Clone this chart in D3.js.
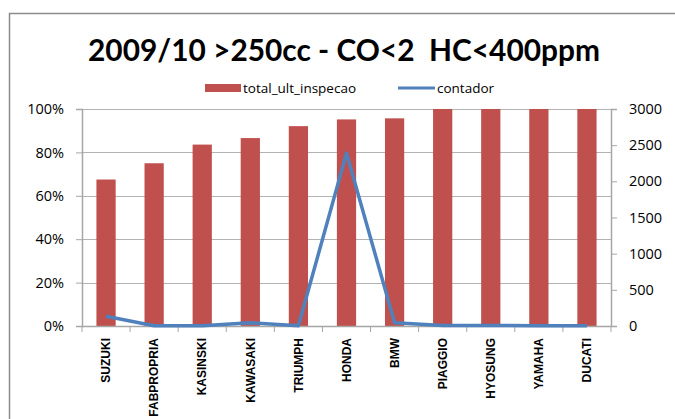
<!DOCTYPE html>
<html>
<head>
<meta charset="utf-8">
<script src="https://cdn.jsdelivr.net/npm/d3@7"></script>
<style>
  body { margin: 0; background: #fff; }
  svg { display: block; }
  text { font-family: "Open Sans", "Liberation Sans", sans-serif; fill: #000; }
</style>
</head>
<body>
<div id="chart"></div>
<script>
// data
var brands = ["SUZUKI", "FABPROPRIA", "KASINSKI", "KAWASAKI", "TRIUMPH", "HONDA", "BMW", "PIAGGIO", "HYOSUNG", "YAMAHA", "DUCATI"];
var totalUltInspecao = [0.675, 0.75, 0.836, 0.866, 0.921, 0.952, 0.957, 1, 1, 1, 1];
var contador = [135, 3, 3, 45, 3, 2390, 45, 8, 8, 4, 2];
var leftTicks = [0, 0.2, 0.4, 0.6, 0.8, 1];
var rightTicks = [0, 500, 1000, 1500, 2000, 2500, 3000];

var W = 675, H = 419;
var margin = {top: 109, right: 64, bottom: 93, left: 82},
    width = W - margin.left - margin.right,
    height = H - margin.top - margin.bottom;

var root = d3.select("#chart").append("svg")
    .attr("width", W)
    .attr("height", H);

// chart frame
root.append("rect")
    .attr("x", 9.5).attr("y", 13.5)
    .attr("width", 700).attr("height", 450)
    .attr("fill", "none")
    .attr("stroke", "#8c8c8c")
    .attr("stroke-width", 1.5);

// title
root.append("text")
    .attr("x", 344).attr("y", 61)
    .attr("text-anchor", "middle")
    .attr("textLength", 512)
    .attr("lengthAdjust", "spacingAndGlyphs")
    .style("white-space", "pre")
    .style("font-family", "Lato, 'Open Sans', sans-serif")
    .style("font-weight", "bold")
    .style("font-size", "31px")
    .text("2009/10 >250cc - CO<2  HC<400ppm");

// legend
var legend = root.append("g");
legend.append("rect")
    .attr("x", 205).attr("y", 84).attr("width", 36).attr("height", 8)
    .attr("fill", "#C0504D");
legend.append("text")
    .attr("x", 243).attr("y", 93)
    .style("font-size", "13.5px")
    .text("total_ult_inspecao");
legend.append("line")
    .attr("x1", 398).attr("x2", 435).attr("y1", 88).attr("y2", 88)
    .attr("stroke", "#4F81BD").attr("stroke-width", 3);
legend.append("text")
    .attr("x", 437).attr("y", 93)
    .style("font-size", "13.5px")
    .text("contador");

var svg = root.append("g")
    .attr("transform", "translate(" + margin.left + "," + margin.top + ")");

var x = d3.scaleBand()
    .domain(brands)
    .range([0, width])
    .paddingInner(0.6)
    .paddingOuter(0.3);

var yL = d3.scaleLinear().domain([0, 1]).range([height, 0]);
var yR = d3.scaleLinear().domain([0, 3000]).range([height, 0]);

// gridlines
svg.append("g")
    .selectAll("line")
    .data(leftTicks.slice(1))
    .enter().append("line")
    .attr("x1", 0).attr("x2", width)
    .attr("y1", function (d) { return Math.round(yL(d)) + 0.5; })
    .attr("y2", function (d) { return Math.round(yL(d)) + 0.5; })
    .attr("stroke", "#b3b3b3")
    .attr("stroke-width", 1);

// bars
svg.append("g")
    .selectAll("rect")
    .data(brands)
    .enter().append("rect")
    .attr("x", function (d) { return x(d); })
    .attr("width", x.bandwidth())
    .attr("y", function (d, i) { return yL(totalUltInspecao[i]); })
    .attr("height", function (d, i) { return height - yL(totalUltInspecao[i]); })
    .attr("fill", "#C0504D");

// left axis
var axL = svg.append("g")
    .call(d3.axisLeft(yL).tickValues(leftTicks).tickFormat(d3.format(".0%")).tickSize(6).tickPadding(12));
// right axis
var axR = svg.append("g")
    .attr("transform", "translate(" + width + ",0)")
    .call(d3.axisRight(yR).tickValues(rightTicks).tickFormat(d3.format("d")).tickSize(6).tickPadding(12));
[axL, axR].forEach(function (ax) {
    ax.select(".domain").attr("stroke", "#a6a6a6").attr("stroke-width", 1.5);
    ax.selectAll(".tick line").attr("stroke", "#a6a6a6");
    ax.selectAll("text").style("font-size", "14.5px").style("font-family", "'Open Sans', sans-serif");
});

// bottom axis (ticks between categories)
var axB = svg.append("g").attr("transform", "translate(0," + height + ")");
axB.append("line")
    .attr("x1", 0).attr("x2", width).attr("y1", 0.5).attr("y2", 0.5)
    .attr("stroke", "#a6a6a6").attr("stroke-width", 1.5);
axB.selectAll(".sep")
    .data(d3.range(brands.length + 1))
    .enter().append("line")
    .attr("x1", function (i) { return i * x.step(); })
    .attr("x2", function (i) { return i * x.step(); })
    .attr("y1", 0).attr("y2", 6)
    .attr("stroke", "#a6a6a6");
axB.selectAll(".lbl")
    .data(brands)
    .enter().append("text")
    .attr("transform", function (d) {
        return "translate(" + (x(d) + x.bandwidth() / 2) + ",12) rotate(-90)";
    })
    .attr("dy", "0.35em")
    .attr("text-anchor", "end")
    .style("font-family", "'Liberation Sans', sans-serif")
    .style("font-weight", "bold")
    .style("font-size", "12px")
    .text(function (d) { return d; });

// contador line
var line = d3.line()
    .x(function (d, i) { return x(brands[i]) + x.bandwidth() / 2; })
    .y(function (d) { return yR(d); });

svg.append("path")
    .datum(contador)
    .attr("d", line)
    .attr("fill", "none")
    .attr("stroke", "#4F81BD")
    .attr("stroke-width", 3.5)
    .attr("stroke-linejoin", "round");
</script>
</body>
</html>
